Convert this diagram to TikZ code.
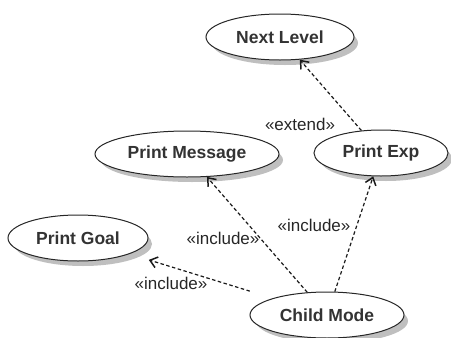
\documentclass[tikz,border=0pt]{standalone}
\usepackage{fontspec}
\setmainfont{Liberation Sans}
\usetikzlibrary{shapes.geometric,arrows.meta}
\tikzset{
  usecase/.style={ellipse, draw=black!85, line width=1pt, fill=white, inner sep=0pt,
    font=\fontsize{17.5}{20}\selectfont\bfseries, text=black!80},
  ushadow/.style={fill=black!25, draw=none},
  dep/.style={draw=black!90, line width=1.2pt, dash pattern=on 3.5pt off 2.5pt,
    -{Straight Barb[length=7pt, width=11pt, line width=1.5pt]}},
  lbl/.style={font=\fontsize{17}{20}\selectfont, text=black!85, inner sep=0pt}
}
\begin{document}
\begin{tikzpicture}[x=1pt, y=-1pt]
  \useasboundingbox (0,0) rectangle (451,338);
  \coordinate (snl) at (285,43);
  \coordinate (spe) at (386,159);
  \coordinate (spm) at (192,160);
  \coordinate (spg) at (83,244);
  \coordinate (scm) at (332,321);
  \fill[ushadow] (snl) ellipse [x radius=73, y radius=22];
  \fill[ushadow] (spe) ellipse [x radius=66, y radius=22];
  \fill[ushadow] (spm) ellipse [x radius=91, y radius=22];
  \fill[ushadow] (spg) ellipse [x radius=69, y radius=22];
  \fill[ushadow] (scm) ellipse [x radius=76, y radius=22];

  \node[usecase, minimum width=148pt, minimum height=46pt] (nl) at (280,37) {Next Level};
  \node[usecase, minimum width=134pt, minimum height=46pt] (pe) at (381,153) {Print Exp};
  \node[usecase, minimum width=184pt, minimum height=46pt] (pm) at (187,154) {Print Message};
  \node[usecase, minimum width=140pt, minimum height=46pt] (pg) at (78,238) {Print Goal};
  \node[usecase, minimum width=154pt, minimum height=46pt] (cm) at (327,315) {Child Mode};

  \draw[dep] (pe) -- (nl);
  \draw[dep] (cm) -- (pm);
  \draw[dep] (cm) -- (pe);
  \draw[dep, shorten <=24pt, shorten >=20pt] (cm) -- (pg);

  \node[lbl] (lext) at (300,124) {«extend»};
  \node[lbl] (linpe) at (314,225) {«include»};
  \node[lbl] (linpm) at (223,238) {«include»};
  \node[lbl] (linpg) at (171,283) {«include»};
\end{tikzpicture}
\end{document}
